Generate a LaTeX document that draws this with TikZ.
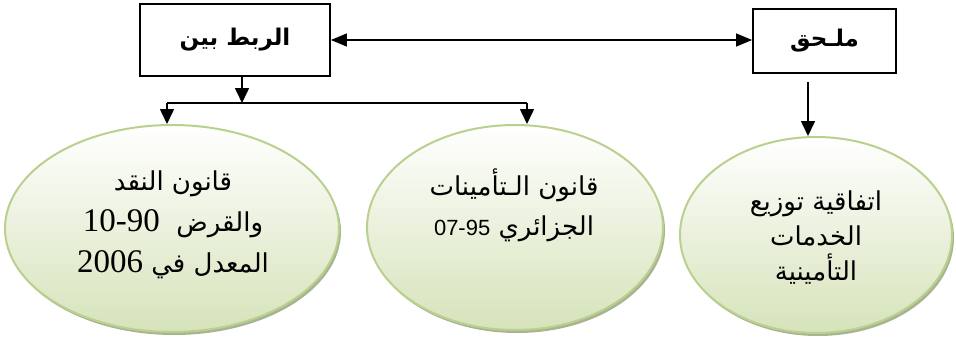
\documentclass[tikz,border=0pt]{standalone}
\usepackage{fontspec}
\usetikzlibrary{shapes.geometric,arrows.meta,shadows}
\TeXXeTstate=1
\newfontfamily\arabicfont[Script=Arabic]{DejaVu Sans}
\newfontfamily\serifnum{Liberation Serif}
\newfontfamily\sansnum{Liberation Sans}
\definecolor{elborder}{RGB}{185,208,142}
\definecolor{elfill}{RGB}{214,227,186}
\definecolor{elshadow}{RGB}{168,180,145}
\begin{document}
\begin{tikzpicture}[x=1pt,y=-1pt,
  box/.style={draw, line width=1.8pt, inner sep=0pt, fill=white,
    font=\arabicfont\bfseries\fontsize{23}{28}\selectfont},
  bubble/.style={ellipse, draw=elborder, line width=2pt, inner sep=0pt,
    top color=white, bottom color=elfill,
    drop shadow={shadow xshift=2pt, shadow yshift=-3pt, fill=elshadow, opacity=1}},
  conn/.style={line width=1.6pt, -{Triangle[width=14pt,length=15pt]}},
  dbl/.style={line width=1.4pt, {Triangle[width=13pt,length=16pt]}-{Triangle[width=13pt,length=16pt]}},
  lbl/.style={align=center, inner sep=0pt, font=\arabicfont\fontsize{26}{41}\selectfont}
]
\useasboundingbox (0,0) rectangle (956,343);

% boxes
\node[box, minimum width=190pt, minimum height=72pt] (b1) at (235,40) {\beginR الربط بين\endR};
\node[box, minimum width=143pt, minimum height=64pt] (b2) at (824.5,41) {\beginR ملـحق\endR};

% ellipses
\node[bubble, minimum width=334pt, minimum height=207pt] (e1) at (172,228.5) {};
\node[bubble, minimum width=296pt, minimum height=205pt] (e2) at (515,227.5) {};
\node[bubble, minimum width=272pt, minimum height=196pt] (e3) at (816,235) {};

% texts
\node[lbl] (t1) at (173,225) {\beginR قانون النقد\endR\\
  \beginR والقرض\ \ {\serifnum\fontsize{33}{41}\selectfont\beginL 10-90\endL}\endR\\
  \beginR المعدل في {\serifnum\fontsize{33}{41}\selectfont\beginL 2006\endL}\endR};
\node[lbl, font=\arabicfont\fontsize{26}{40}\selectfont] (t2) at (514,205) {\beginR قانون الـتأمينات\endR\\
  \beginR الجزائري {\sansnum\fontsize{22}{40}\selectfont\beginL 07-95\endL}\endR};
\node[lbl, font=\arabicfont\fontsize{26}{35}\selectfont] (t3) at (816,238) {\beginR اتفاقية توزيع\endR\\
  \beginR الخدمات\endR\\
  \beginR التأمينية\endR};

% connectors
\draw[dbl] (b1.east) -- (b1.east -| b2.west);
\coordinate (j) at (242,103);
\coordinate (jl) at (167,103);
\coordinate (jr) at (527,103);
\coordinate (r0) at (808,82);
\draw[conn] (b1.south -| j) -- (j);
\draw[line width=1.6pt] (jl) -- (jr);
\draw[conn] (jl) -- (jl |- e1.north);
\draw[conn] (jr) -- (jr |- e2.north);
\draw[conn] (r0) -- (r0 |- e3.north);
\end{tikzpicture}
\end{document}
